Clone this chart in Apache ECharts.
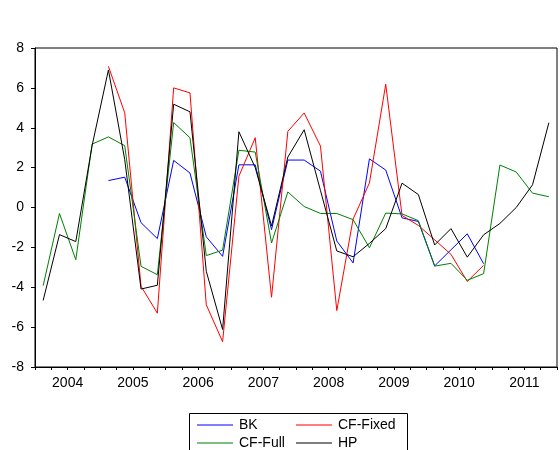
<!DOCTYPE html>
<html>
<head>
<meta charset="utf-8">
<script src="https://cdn.jsdelivr.net/npm/echarts@6/dist/echarts.min.js"></script>
<style>html,body{margin:0;padding:0;background:#fff}#c{width:560px;height:450px}</style>
</head>
<body>
<div id="c"></div>
<script>
var years = ['2004','2005','2006','2007','2008','2009','2010','2011'];
var quarters = [];
years.forEach(function(y){ for (var q=1;q<=4;q++) quarters.push(y+'Q'+q); });
var yTicks = [-8,-6,-4,-2,0,2,4,6,8];

var BK = [null,null,null,null, 1.35, 1.52, -0.76, -1.56, 2.36, 1.73, -1.47, -2.45,
  2.14, 2.14, -1.11, 2.38, 2.38, 1.82, -1.68, -2.78, 2.44, 1.88, -0.52, -0.70,
  -2.93, -2.12, -1.32, -2.82, null, null, null, null];
var CF_Fixed = [null,null,null,null, 7.08, 4.75, -3.95, -5.30, 6.00, 5.75, -4.88, -6.73,
  1.57, 3.50, -4.50, 3.82, 4.74, 3.08, -5.17, -0.58, 1.23, 6.18, -0.40, -0.90,
  -1.62, -2.35, -3.71, -2.90, null, null, null, null];
var CF_Full = [-3.92, -0.30, -2.62, 3.18, 3.54, 3.10, -2.95, -3.37, 4.26, 3.50, -2.41, -2.14,
  2.87, 2.78, -1.78, 0.78, 0.05, -0.30, -0.30, -0.61, -2.02, -0.28, -0.32, -0.66,
  -2.94, -2.80, -3.65, -3.32, 2.13, 1.78, 0.72, 0.54];
var HP = [-4.66, -1.36, -1.71, 3.10, 6.90, 2.40, -4.09, -3.90, 5.18, 4.80, -3.20, -6.12,
  3.80, 2.00, -0.93, 2.53, 3.90, 0.85, -2.18, -2.47, -1.80, -1.06, 1.22, 0.65,
  -1.88, -1.06, -2.49, -1.37, -0.80, 0.00, 1.14, 4.25];

function pts(arr){ return arr.map(function(v,i){ return [i+0.5, v]; }); }
var FONT = '"Liberation Sans", Arial, sans-serif';

var chart = echarts.init(document.getElementById('c'), null, {renderer:'canvas'});
function mk(name, data, color){
  return {name:name, type:'line', data:pts(data), symbol:'none', showSymbol:false,
    connectNulls:false, lineStyle:{color:color, width:1}, itemStyle:{color:color},
    animation:false, silent:true};
}
function lg(name, left, top){
  return {left:left, top:top, padding:0, itemWidth:36, itemHeight:1, icon:'rect',
    data:[name], selectedMode:false,
    textStyle:{color:'#000', fontFamily:FONT, fontSize:14, padding:[0,0,0,1]}};
}
chart.setOption({
  animation:false,
  backgroundColor:'#fff',
  grid:{left:35, top:48, width:526, height:319, show:true, borderColor:'#000', borderWidth:1, containLabel:false},
  xAxis:{type:'value', min:0, max:quarters.length, interval:1,
    axisLine:{show:true, onZero:false, lineStyle:{color:'#000', width:1}},
    axisTick:{show:true, length:3, lineStyle:{color:'#000'}},
    splitLine:{show:false},
    axisLabel:{show:true, margin:9, color:'#000', fontFamily:FONT, fontSize:14,
      formatter:function(v){ return (v % 4 === 2) ? years[(v-2)/4] : ''; }}
  },
  yAxis:{type:'value', min:yTicks[0], max:yTicks[yTicks.length-1], interval:2,
    axisLine:{show:true, onZero:false, lineStyle:{color:'#000', width:1}},
    axisTick:{show:true, length:4, lineStyle:{color:'#000'}},
    splitLine:{show:false},
    axisLabel:{margin:11, color:'#000', fontFamily:FONT, fontSize:14}
  },
  legend:[
    lg('BK', 197, 418), lg('CF-Full', 197, 436),
    lg('CF-Fixed', 296, 418), lg('HP', 296, 436)
  ],
  graphic:[{type:'rect', shape:{x:189.5, y:413.5, width:218, height:45},
    style:{fill:'none', stroke:'#000', lineWidth:1}, silent:true}],
  series:[
    mk('BK', BK, '#0000ff'),
    mk('CF-Fixed', CF_Fixed, '#ff0000'),
    mk('CF-Full', CF_Full, '#008000'),
    mk('HP', HP, '#000000')
  ]
});
</script>
</body>
</html>
